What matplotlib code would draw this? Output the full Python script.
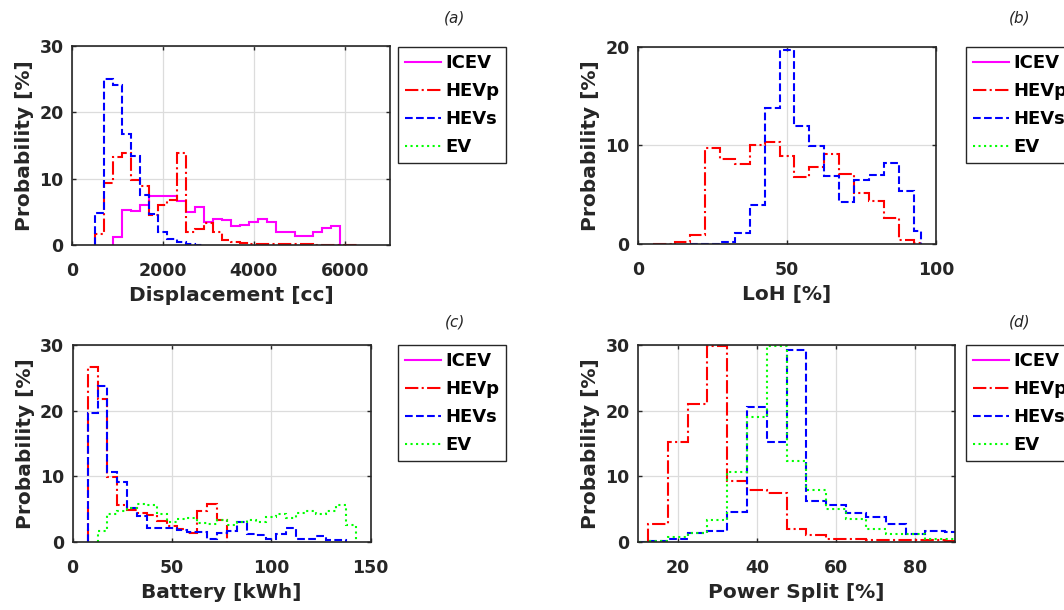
import numpy as np
import matplotlib
matplotlib.use("Agg")
import matplotlib.pyplot as plt
from matplotlib.lines import Line2D

plt.rcParams['font.family'] = ['DejaVu Sans']

# ---------------- data ----------------
series_names = ["ICEV", "HEVp", "HEVs", "EV"]

# (a) Displacement [cc]
disp_icev_edges = np.arange(900, 5901, 200)
disp_icev = [1.2, 5.3, 5.1, 6.1, 7.4, 7.4, 7.4, 6.6, 4.9, 5.7, 3.4, 3.9, 3.7, 2.9, 3.0,
             3.4, 3.9, 3.5, 2.0, 2.0, 1.4, 1.3, 2.0, 2.6, 2.8]
disp_hevp_edges = np.arange(500, 6301, 200)
disp_hevp = [1.7, 9.3, 13.2, 13.9, 9.8, 8.9, 4.5, 6.0, 6.8, 13.8, 2.0, 2.4, 3.3, 1.9, 0.7,
             0.5, 0.35, 0.2, 0.15, 0.12, 0.1, 0.1, 0.08, 0.08, 0.06, 0.05, 0.05, 0.04, 0.03]
disp_hevs_edges = np.arange(500, 2901, 200)
disp_hevs = [4.8, 25.0, 24.1, 16.7, 13.4, 7.5, 4.65, 2.0, 0.9, 0.4, 0.08, 0.03]

# (b) LoH [%]
loh_hevp_edges = [5, 12.5, 17.5, 22.5, 27.5, 32.5, 37.5, 42.5, 47.5, 52.5, 57.5, 62.5,
                  67.5, 72.5, 77.5, 82.5, 87.5, 92.5, 95]
loh_hevp = [0.03, 0.25, 0.9, 9.76, 8.6, 8.1, 10.0, 10.4, 8.9, 6.8, 7.8, 9.1, 7.1, 5.2,
            4.35, 2.6, 0.44, 0.1]
loh_hevs_edges = [17.5, 22.5, 27.5, 32.5, 37.5, 42.5, 47.5, 52.5, 57.5, 62.5, 67.5, 72.5,
                  77.5, 82.5, 87.5, 92.5, 95]
loh_hevs = [0.02, 0.02, 0.25, 1.1, 4.0, 13.8, 19.7, 12.0, 9.9, 6.9, 4.25, 6.5, 7.0, 8.2,
            5.4, 1.36]

# (c) Battery [kWh]
bat_hevp_edges = np.arange(7.5, 77.6, 5)
bat_hevp = [26.6, 21.85, 9.93, 5.7, 4.94, 4.43, 4.1, 3.16, 2.4, 2.04, 1.38, 4.7, 5.86, 3.3]
bat_hevs_edges = np.arange(7.5, 137.6, 5)
bat_hevs = [19.7, 23.8, 10.6, 9.2, 5.2, 3.9, 2.14, 2.1, 2.1, 1.78, 1.48, 1.48, 0.5, 1.3,
            1.6, 3.0, 1.27, 1.0, 0.5, 1.2, 2.14, 0.5, 0.5, 0.87, 0.36, 0.36]
bat_ev_edges = np.arange(12.5, 142.6, 5)
bat_ev = [1.6, 4.3, 4.7, 5.2, 5.86, 5.6, 4.2, 3.0, 3.57, 3.67, 2.9, 2.75, 3.4, 2.65, 3.06,
          3.4, 3.0, 3.8, 4.2, 3.67, 4.4, 4.7, 4.2, 4.7, 5.6, 2.65]

# (d) Power Split [%]
ps_hevp_edges = np.arange(12.5, 92.6, 5)
ps_hevp = [2.8, 15.2, 21.0, 29.8, 9.3, 7.87, 7.5, 2.04, 1.0, 0.5, 0.4, 0.35, 0.3, 0.3,
           0.25, 0.2]
ps_hevs_edges = np.arange(7.5, 92.6, 5)
ps_hevs = [0.05, 0.1, 0.5, 1.4, 1.6, 4.5, 20.5, 15.3, 29.2, 6.2, 5.7, 4.4, 3.8, 2.76,
           1.2, 1.6, 1.5]
ps_ev_edges = np.arange(7.5, 92.6, 5)
ps_ev = [0.05, 0.1, 0.77, 1.4, 3.3, 10.7, 19.0, 29.9, 12.3, 7.9, 5.0, 3.5, 2.0, 1.28,
         1.2, 0.5, 0.5]

# ---------------- styles ----------------
colors = {"ICEV": "#ff00ff", "HEVp": "#ff0000", "HEVs": "#0000ff", "EV": "#00ff00"}
styles = {"ICEV": "-", "HEVp": "-.", "HEVs": "--", "EV": ":"}
LW = 1.5
TXT = "#262626"

fig = plt.figure(figsize=(10.64, 6.10), dpi=100)

panels = [
    dict(pos=[0.0677, 0.5984, 0.2989, 0.3262], xlim=(0, 7000), ylim=(0, 30),
         xticks=[0, 2000, 4000, 6000], yticks=[0, 10, 20, 30],
         xlabel="Displacement [cc]", tag="(a)",
         data=[("ICEV", disp_icev_edges, disp_icev), ("HEVp", disp_hevp_edges, disp_hevp),
               ("HEVs", disp_hevs_edges, disp_hevs)]),
    dict(pos=[0.5996, 0.6000, 0.2801, 0.3230], xlim=(0, 100), ylim=(0, 20),
         xticks=[0, 50, 100], yticks=[0, 10, 20],
         xlabel="LoH [%]", tag="(b)",
         data=[("HEVp", loh_hevp_edges, loh_hevp), ("HEVs", loh_hevs_edges, loh_hevs)]),
    dict(pos=[0.0683, 0.1115, 0.2801, 0.3229], xlim=(0, 150), ylim=(0, 30),
         xticks=[0, 50, 100, 150], yticks=[0, 10, 20, 30],
         xlabel="Battery [kWh]", tag="(c)",
         data=[("HEVp", bat_hevp_edges, bat_hevp), ("HEVs", bat_hevs_edges, bat_hevs),
               ("EV", bat_ev_edges, bat_ev)]),
    dict(pos=[0.5996, 0.1115, 0.2980, 0.3229], xlim=(10, 90), ylim=(0, 30),
         xticks=[20, 40, 60, 80], yticks=[0, 10, 20, 30],
         xlabel="Power Split [%]", tag="(d)",
         data=[("HEVp", ps_hevp_edges, ps_hevp), ("HEVs", ps_hevs_edges, ps_hevs),
               ("EV", ps_ev_edges, ps_ev)]),
]

legend_x = [398 / 1064, 966 / 1064, 398 / 1064, 966 / 1064]
legend_top = [1 - 47 / 610, 1 - 47 / 610, 1 - 345 / 610, 1 - 345 / 610]
tag_xy = [(455 / 1064, 1 - 18 / 610), (1020 / 1064, 1 - 18 / 610),
          (455 / 1064, 1 - 322 / 610), (1020 / 1064, 1 - 322 / 610)]

for i, p in enumerate(panels):
    ax = fig.add_axes(p["pos"])
    ax.set_axisbelow(True)
    ax.grid(True, color="#dcdcdc", lw=0.9)
    for name, edges, vals in p["data"]:
        ax.stairs(vals, edges, baseline=0, fill=False, color=colors[name],
                  linestyle=styles[name], lw=LW)
    ax.set_xlim(*p["xlim"])
    ax.set_ylim(*p["ylim"])
    ax.set_xticks(p["xticks"])
    ax.set_yticks(p["yticks"])
    ax.tick_params(direction="in", top=True, right=True, length=3, width=1.0,
                   color=TXT, labelsize=12.5, labelcolor=TXT)
    ax.tick_params(axis="x", pad=12.5)
    ax.tick_params(axis="y", pad=6)
    for lab in ax.get_xticklabels() + ax.get_yticklabels():
        lab.set_fontweight("bold")
    for sp in ax.spines.values():
        sp.set_color(TXT)
        sp.set_linewidth(1.2)
    ax.set_xlabel(p["xlabel"], fontsize=14.5, fontweight="bold", color=TXT, labelpad=4)
    ax.set_ylabel("Probability [%]", fontsize=14.5, fontweight="bold", color=TXT, labelpad=4)

    handles = [Line2D([], [], color=colors[n], linestyle=styles[n], lw=LW) for n in series_names]
    leg = ax.legend(handles, series_names, loc="upper left",
                    bbox_to_anchor=(legend_x[i], legend_top[i]),
                    bbox_transform=fig.transFigure, borderaxespad=0,
                    prop=dict(size=13, weight="bold"), frameon=True, fancybox=False,
                    framealpha=1, edgecolor=TXT, handlelength=2.0, handletextpad=0.2,
                    labelspacing=0.55, borderpad=0.4)
    leg.get_frame().set_linewidth(1.0)

    fig.text(tag_xy[i][0], tag_xy[i][1], p["tag"], ha="center", va="center",
             fontsize=11, style="italic", color=TXT)

fig.savefig("out.png", dpi=100)
